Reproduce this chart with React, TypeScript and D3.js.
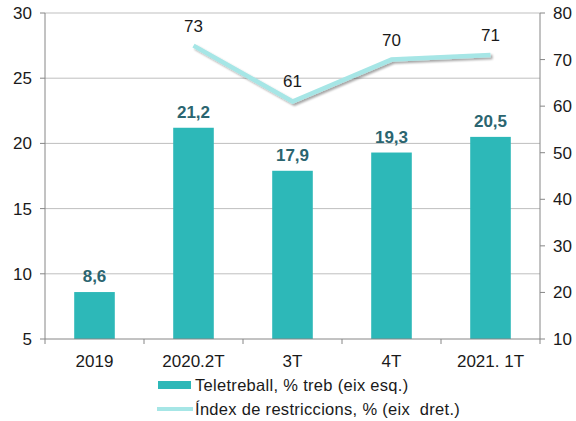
import React from "react";
import * as d3 from "d3";

const categories = ["2019", "2020.2T", "3T", "4T", "2021. 1T"];
const teletreball = [8.6, 21.2, 17.9, 19.3, 20.5];
const restriccions: (number | null)[] = [null, 73, 61, 70, 71];
const leftTicks = [5, 10, 15, 20, 25, 30];
const rightTicks = [10, 20, 30, 40, 50, 60, 70, 80];
const legendBar = "Teletreball, % treb (eix esq.)";
const legendLine = "Índex de restriccions, % (eix  dret.)";

const W = 576, H = 421;
const L = 45, R = 540, T = 13, B = 339;
const FONT = "'Liberation Sans', Arial, sans-serif";

export default function App() {
  const x = d3.scaleBand().domain(categories).range([L, R]).paddingInner(0.59).paddingOuter(0.295);
  const yL = d3.scaleLinear().domain([5, 30]).range([B, T]);
  const yR = d3.scaleLinear().domain([10, 80]).range([B, T]);
  const cx = (c: string) => (x(c) as number) + x.bandwidth() / 2;
  const step = (R - L) / categories.length;

  const linePts = categories
    .map((c, i) => ({ c, v: restriccions[i] }))
    .filter((d) => d.v != null) as { c: string; v: number }[];
  const line = d3.line<{ c: string; v: number }>().x((d) => cx(d.c)).y((d) => yR(d.v));
  const fmt = (v: number) => v.toFixed(1).replace(".", ",");

  return (
    <svg width={W} height={H} style={{ position: "absolute", left: 0, top: 0, background: "#fff" }} fontFamily={FONT}>
      <defs>
        <filter id="sh" x="-10%" y="-50%" width="120%" height="200%">
          <feGaussianBlur in="SourceAlpha" stdDeviation="1.2" />
          <feOffset dx="1.5" dy="2" result="o" />
          <feComponentTransfer><feFuncA type="linear" slope="0.35" /></feComponentTransfer>
          <feMerge><feMergeNode /><feMergeNode in="SourceGraphic" /></feMerge>
        </filter>
      </defs>
      {leftTicks.map((t) => (
        <g key={"g" + t}>
          {t !== 5 && <line x1={L} x2={R} y1={yL(t)} y2={yL(t)} stroke="#bfbfbf" strokeWidth={1} />}
          <line x1={L - 5} x2={L} y1={yL(t)} y2={yL(t)} stroke="#868686" />
          <text x={32} y={yL(t) + 6} textAnchor="end" fontSize={17} fill="#1a1a1a">{t}</text>
        </g>
      ))}
      {rightTicks.map((t) => (
        <g key={"r" + t}>
          <line x1={R} x2={R + 5} y1={yR(t)} y2={yR(t)} stroke="#868686" />
          <text x={553} y={yR(t) + 6} textAnchor="start" fontSize={17} fill="#1a1a1a">{t}</text>
        </g>
      ))}
      {categories.map((c, i) => (
        <rect key={"b" + c} x={x(c)} y={yL(teletreball[i])} width={x.bandwidth()} height={B - yL(teletreball[i])} fill="#2db8b8" />
      ))}
      <line x1={L} x2={L} y1={T} y2={B} stroke="#868686" />
      <line x1={R} x2={R} y1={T} y2={B} stroke="#868686" />
      <line x1={L} x2={R} y1={B} y2={B} stroke="#868686" />
      {d3.range(categories.length + 1).map((i) => (
        <line key={"ct" + i} x1={L + i * step} x2={L + i * step} y1={B} y2={B + 5} stroke="#868686" />
      ))}
      {categories.map((c) => (
        <text key={"cl" + c} x={cx(c)} y={B + 28} textAnchor="middle" fontSize={17} fill="#1a1a1a">{c}</text>
      ))}
      {categories.map((c, i) => (
        <text key={"bl" + c} x={cx(c)} y={yL(teletreball[i]) - 10} textAnchor="middle" fontSize={17} fontWeight="bold" fill="#2b6570">{fmt(teletreball[i])}</text>
      ))}
      <path d={line(linePts) as string} fill="none" stroke="#a6e6e6" strokeWidth={4.5} strokeLinejoin="miter" filter="url(#sh)" />
      {linePts.map((d) => (
        <text key={"ll" + d.c} x={cx(d.c)} y={yR(d.v) - 14} textAnchor="middle" fontSize={17} fill="#1a1a1a">{d.v}</text>
      ))}
      <rect x={158} y={381} width={33} height={8} fill="#2db8b8" />
      <text x={195} y={391} fontSize={16.5} fill="#1a1a1a" letterSpacing={0.3}>{legendBar}</text>
      <line x1={157} x2={193} y1={409} y2={409} stroke="#a6e6e6" strokeWidth={4} />
      <text x={195} y={415} fontSize={16.5} fill="#1a1a1a" letterSpacing={0.3} style={{ whiteSpace: "pre" }}>{legendLine}</text>
    </svg>
  );
}
